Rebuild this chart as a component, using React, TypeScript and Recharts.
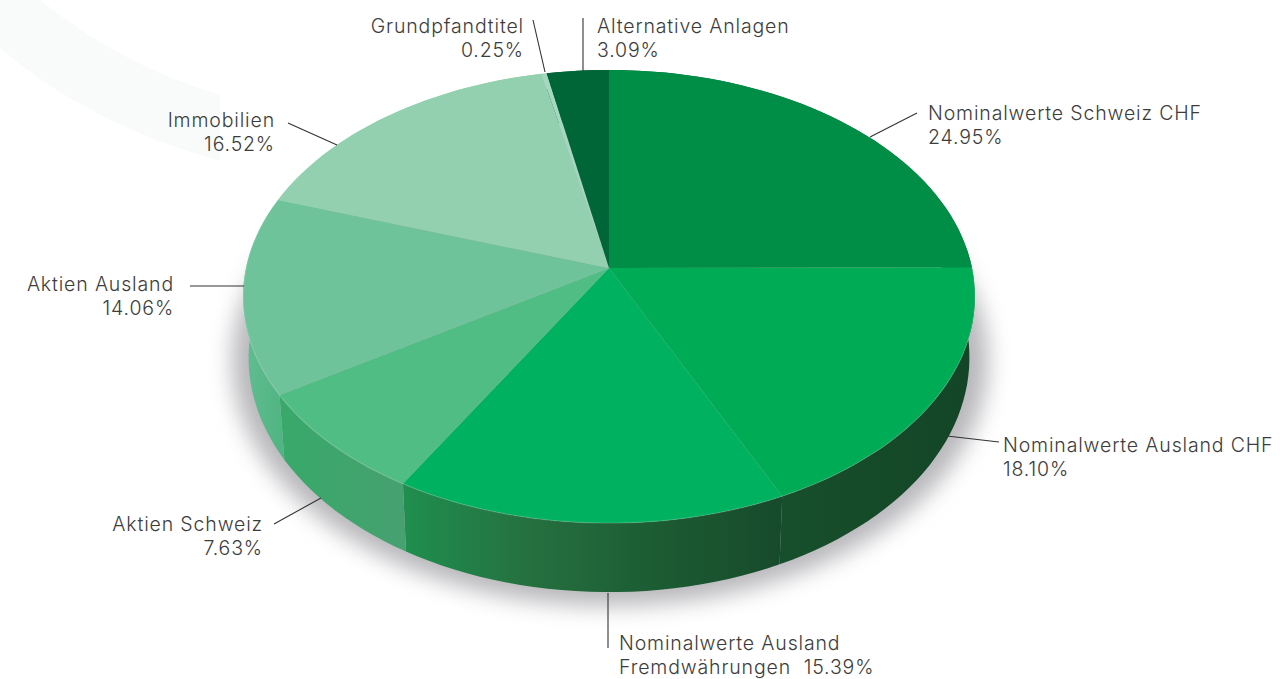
import React from "react";
import { Pie, PieChart } from "recharts";

const names = [
  "Nominalwerte Schweiz CHF",
  "Nominalwerte Ausland CHF",
  "Nominalwerte Ausland Fremdwährungen",
  "Aktien Schweiz",
  "Aktien Ausland",
  "Immobilien",
  "Grundpfandtitel",
  "Alternative Anlagen",
];
const shares = [24.95, 18.1, 15.39, 7.63, 14.06, 16.52, 0.25, 3.09];

const topColors = ["#008d46", "#00ab55", "#00b25f", "#50bd84", "#6fc39a", "#93d0b0", "#a6d8bf", "#006638"];
const sideStops = [
  ["#00703a", "#00703a"],
  ["#174f2c", "#134526"],
  ["#1f8f4f", "#25703f", "#1c5c33", "#174a2b"],
  ["#38a96a", "#3fa56c", "#47a071"],
  ["#62bd90", "#4fb482"],
  ["#93d0b0", "#93d0b0"],
  ["#c5e3d3", "#c5e3d3"],
  ["#006638", "#006638"],
];

// label text lines, positions and leader lines, same order as names
const labelLines = [
  ["Nominalwerte Schweiz CHF", "24.95%"],
  ["Nominalwerte Ausland CHF", "18.10%"],
  ["Nominalwerte Ausland", "Fremdwährungen  15.39%"],
  ["Aktien Schweiz", "7.63%"],
  ["Aktien Ausland", "14.06%"],
  ["Immobilien", "16.52%"],
  ["Grundpfandtitel", "0.25%"],
  ["Alternative Anlagen", "3.09%"],
];
const labelPos = [
  { x: 928, y: 120, anchor: "start", line: [917, 113, 870, 137] },
  { x: 1003, y: 452, anchor: "start", line: [999, 442, 947, 436] },
  { x: 619, y: 650, anchor: "start", line: [608, 648, 608, 593] },
  { x: 263, y: 531, anchor: "end", line: [274, 524, 321, 498] },
  { x: 174, y: 291, anchor: "end", line: [190, 286, 244, 286] },
  { x: 275, y: 127, anchor: "end", line: [288, 123, 337, 145] },
  { x: 524, y: 33, anchor: "end", line: [533, 20, 545, 72] },
  { x: 597, y: 33, anchor: "start", line: [583, 18, 583, 71] },
];

const tableData = names.map((name, i) => ({ name, value: shares[i] }));

// the disc is a circle seen in perspective, so the apex sits above the ellipse centre
const RX = 363;
const RY = 223;
const K = 0.126;
const project = (deg: number, cx: number, cy: number) => {
  const t = (deg * Math.PI) / 180;
  const d = 1 + K * Math.sin(t);
  return { x: cx + (RX * Math.cos(t)) / d, y: cy - (RY * Math.sin(t)) / d, s: Math.sin(t) };
};
const arcPoints = (start: number, end: number, cx: number, cy: number) => {
  const n = Math.max(2, Math.ceil(Math.abs(end - start) / 2));
  return Array.from({ length: n + 1 }, (_, i) => project(start + ((end - start) * i) / n, cx, cy));
};
const toPath = (pts: { x: number; y: number }[]) =>
  pts.map((p, i) => `${i ? "L" : "M"}${p.x.toFixed(1)} ${p.y.toFixed(1)}`).join(" ");

const TopFace = (props: any) => {
  const { cx, cy, startAngle, endAngle, index } = props;
  const arc = arcPoints(startAngle, endAngle, cx, cy);
  return (
    <g>
      <path d={`M${cx} ${cy} ${toPath(arc).replace("M", "L")} Z`} fill={topColors[index]} />
      {index > 0 && index < 5 && <path d={toPath(arc)} fill="none" stroke="#ffffff" strokeOpacity={0.15} strokeWidth={1.2} />}
    </g>
  );
};

const SideWall = (props: any) => {
  const { cx, cy, startAngle, endAngle, index } = props;
  const arc = arcPoints(startAngle, endAngle, cx, cy);
  const lower = arc
    .map(p => ({ x: cx + (p.x - cx) * 0.985, y: p.y + 60 - 9 * p.s }))
    .reverse();
  return <path d={`${toPath(arc)} ${toPath(lower).replace("M", "L")} Z`} fill={`url(#side${index})`} />;
};

const renderLabel = (props: any) => {
  const i = props.index;
  const pos = labelPos[i];
  const [x1, y1, x2, y2] = pos.line;
  return (
    <g key={i}>
      <line x1={x1} y1={y1} x2={x2} y2={y2} stroke="#333333" strokeWidth={1.1} />
      <text
        x={pos.x}
        y={pos.y}
        textAnchor={pos.anchor}
        fontFamily="Inter"
        fontSize={19.5}
        fontWeight={300}
        letterSpacing={0.85}
        fill="#3c3c3c"
      >
        {labelLines[i].map((t, j) => (
          <tspan key={j} x={pos.x} dy={j ? 24 : 0} style={{ whiteSpace: "pre" }}>
            {t}
          </tspan>
        ))}
      </text>
    </g>
  );
};

export default function App() {
  return (
    <div style={{ position: "absolute", left: 0, top: 0, width: 1280, height: 679, overflow: "hidden", background: "#fff" }}>
      {/* pale swoosh in the page background */}
      <svg width={220} height={170} style={{ position: "absolute", left: 0, top: 0 }}>
        <path d="M40 0 Q120 65 220 95 L220 161 Q90 125 0 48 L0 0 Z" fill="#f8fbf9" />
      </svg>
      {/* drop shadow under the disc */}
      <div
        style={{
          position: "absolute",
          left: 232,
          top: 115,
          width: 756,
          height: 491,
          borderRadius: "50%",
          background: "#b8b8bc",
          filter: "blur(11px)",
        }}
      />
      <div style={{ position: "absolute", left: 0, top: 0 }}>
        <PieChart width={1280} height={679} margin={{ top: 0, right: 0, bottom: 0, left: 0 }}>
          <defs>
            {sideStops.map((stops, i) => (
              <linearGradient key={i} id={`side${i}`} x1="0" y1="0" x2="1" y2="0">
                {stops.map((c, j) => (
                  <stop key={j} offset={j / (stops.length - 1)} stopColor={c} />
                ))}
              </linearGradient>
            ))}
          </defs>
          <Pie
            data={tableData}
            dataKey="value"
            nameKey="name"
            cx={609}
            cy={268}
            outerRadius={200}
            startAngle={90}
            endAngle={-270}
            stroke="none"
            shape={SideWall}
            isAnimationActive={false}
          />
          <Pie
            data={tableData}
            dataKey="value"
            nameKey="name"
            cx={609}
            cy={268}
            outerRadius={200}
            startAngle={90}
            endAngle={-270}
            stroke="none"
            shape={TopFace}
            label={renderLabel}
            labelLine={false}
            isAnimationActive={false}
          />
        </PieChart>
      </div>
    </div>
  );
}
